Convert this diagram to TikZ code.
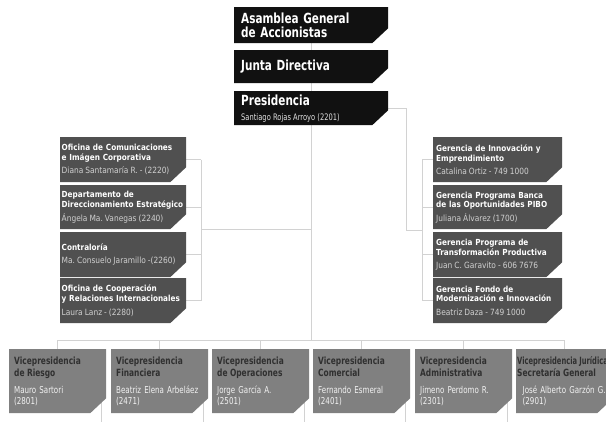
\documentclass[tikz,border=0pt]{standalone}
\usepackage{fontspec}
\usepackage{graphicx}
\newfontfamily\topf{DejaVu Sans}[FakeStretch=0.75]
\newfontfamily\sidef{DejaVu Sans}[FakeStretch=0.87]
\definecolor{topfill}{HTML}{111111}
\definecolor{sidefill}{HTML}{505050}
\definecolor{botfill}{HTML}{808080}
\definecolor{bottitle}{HTML}{303030}
\definecolor{botname}{HTML}{F2F2F2}
\definecolor{sidename}{HTML}{D0D0D0}
\definecolor{topname}{HTML}{E0E0E0}
\definecolor{linec}{HTML}{D2D2D2}
\pgfdeclarelayer{bg}
\pgfsetlayers{bg,main}
\newcommand\tightsp{\frenchspacing\spaceskip=0.24em plus 0.05em minus 0.02em\relax}
\newcommand\sideText[2]{{\bfseries #1\par}\vspace{3.5bp}{\color{sidename}\fontsize{8.6}{10}\selectfont\tightsp #2\par}}
\newcommand\botText[2]{{\bfseries\color{bottitle}\fontsize{10}{12}\selectfont\tightsp #1\par}\vspace{6.5bp}#2\par}
\tikzset{
  cutfill/.style={path picture={\fill[#1] (path picture bounding box.north west) -- (path picture bounding box.north east) -- ([yshift=15bp]path picture bounding box.south east) -- ([xshift=-16bp]path picture bounding box.south east) -- (path picture bounding box.south west) -- cycle;}},
  topbox/.style={anchor=north west, cutfill=topfill, inner xsep=7bp, inner ysep=0pt, text width=140bp, align=left, text=white, font={\topf\bfseries\fontsize{14}{12.5}\selectfont\tightsp}},
  leftbox/.style={anchor=north west, cutfill=sidefill, inner xsep=1.5bp, inner ysep=0pt, text width=123bp, align=left, text=white, font={\sidef\fontsize{8.4}{9.6}\selectfont\tightsp}},
  rightbox/.style={leftbox, inner xsep=3bp, text width=123bp},
  botbox/.style={anchor=north west, cutfill=botfill, inner xsep=5bp, inner ysep=0pt, text width=87bp, minimum height=64bp, align=left, text=botname, font={\topf\fontsize{9.5}{10.5}\selectfont\tightsp}},
  conn/.style={draw=linec, line width=0.9bp},
}
\begin{document}
\begin{tikzpicture}[x=1bp,y=-1bp]
\useasboundingbox (0,0) rectangle (606,421);
% top
\node[topbox, minimum height=36bp] (asam) at (234,7) {\vspace*{1.5bp}Asamblea General\\de Accionistas};
\node[topbox, minimum height=33bp] (junta) at (234,50) {Junta Directiva};
\node[topbox, minimum height=34bp] (pres) at (234,91) {Presidencia\par\vspace{4.5bp}{\mdseries\fontsize{9}{10.5}\selectfont\tightsp\color{topname}Santiago Rojas Arroyo (2201)\par}};
% left
\node[leftbox, minimum height=45bp] (l1) at (60,137) {\sideText{Oficina de Comunicaciones\\e Imágen Corporativa}{Diana Santamaría R. - (2220)}};
\node[leftbox, minimum height=44bp] (l2) at (60,185) {\sideText{Departamento de\\Direccionamiento Estratégico}{Ángela Ma. Vanegas (2240)}};
\node[leftbox, minimum height=45bp] (l3) at (60,232) {\sideText{Contraloría}{Ma. Consuelo Jaramillo -(2260)}};
\node[leftbox, minimum height=45bp] (l4) at (60,278) {\sideText{Oficina de Cooperación\\y Relaciones Internacionales}{Laura Lanz - (2280)}};
% right
\node[rightbox, minimum height=45bp] (r1) at (433,137) {\sideText{Gerencia de Innovación y\\Emprendimiento}{Catalina Ortiz - 749 1000}};
\node[rightbox, minimum height=44bp] (r2) at (433,185) {\sideText{Gerencia Programa Banca\\de las Oportunidades PIBO}{Juliana Álvarez (1700)}};
\node[rightbox, minimum height=45bp] (r3) at (433,232) {\sideText{Gerencia Programa de\\Transformación Productiva}{Juan C. Garavito - 606 7676}};
\node[rightbox, minimum height=45bp] (r4) at (433,278) {\sideText{Gerencia Fondo de\\Modernización e Innovación}{Beatriz Daza - 749 1000}};
% bottom
\node[botbox] (b1) at (9,349) {\botText{Vicepresidencia\\de Riesgo}{Mauro Sartori\\(2801)}};
\node[botbox] (b2) at (111,349) {\botText{Vicepresidencia\\Financiera}{Beatriz Elena Arbeláez\\(2471)}};
\node[botbox] (b3) at (212,349) {\botText{Vicepresidencia\\de Operaciones}{Jorge García A.\\(2501)}};
\node[botbox] (b4) at (313,349) {\botText{Vicepresidencia\\Comercial}{Fernando Esmeral\\(2401)}};
\node[botbox] (b5) at (415,349) {\botText{Vicepresidencia\\Administrativa}{Jimeno Perdomo R.\\(2301)}};
\node[botbox] (b6) at (516,349) {\botText{\makebox[0pt][l]{\hspace*{-4bp}\scalebox{0.9}[1]{Vicepresidencia Jurídica}}\\\makebox[0pt][l]{\hspace*{-4bp}Secretaría General}}{\makebox[0pt][l]{\hspace*{1.5bp}José Alberto Garzón G.}\\\hspace*{1.5bp}(2901)}};
% connectors
\coordinate (bus) at (311,340);
\coordinate (lbr) at (201,229);
\coordinate (rturn) at (406,230);
\coordinate (rbr) at (422,230);
\begin{pgfonlayer}{bg}
\fill[white] (0,0) rectangle (606,421);
\draw[conn] (asam.south) -- (junta.north);
\draw[conn] (junta.south) -- (pres.north);
\draw[conn] (pres.south) -- (pres.south |- bus);
\draw[conn] (lbr) -- (lbr -| pres.south);
\draw[conn] (l1.east -| lbr) -- (l4.east -| lbr);
\draw[conn] (pres.east) -| (rturn) -- (rbr);
\draw[conn] (r1.west -| rbr) -- (r4.west -| rbr);
\foreach \i in {1,...,4} {
  \draw[conn] (l\i.east) -- (l\i.east -| lbr);
  \draw[conn] (r\i.west) -- (r\i.west -| rbr);
}
\draw[conn] (b1.north |- bus) -- (b6.north |- bus);
\foreach \i in {1,...,6} {
  \draw[conn] (b\i.north) -- (b\i.north |- bus);
  \draw[conn] ([xshift=-5bp,yshift=12bp]b\i.south east) -- ([xshift=-5bp,yshift=-15bp]b\i.south east);
}
\end{pgfonlayer}
\end{tikzpicture}
\end{document}
